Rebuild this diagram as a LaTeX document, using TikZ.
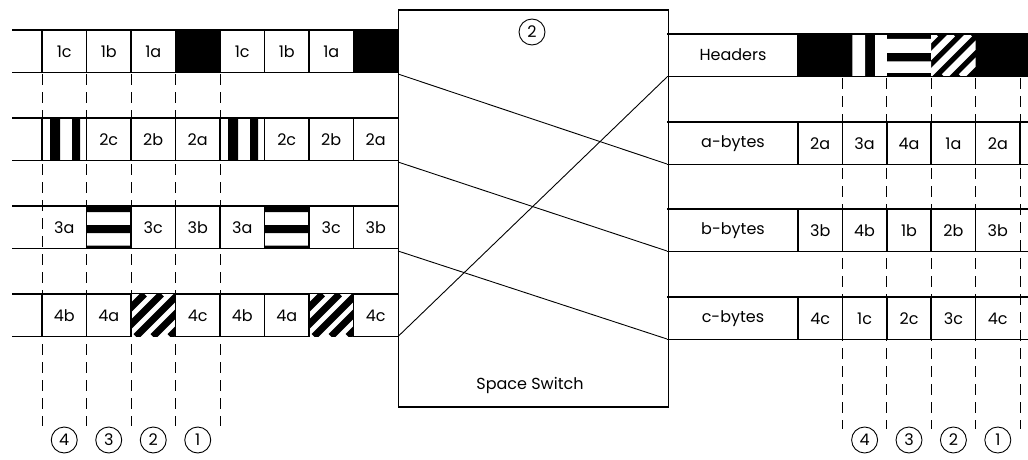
\documentclass[tikz,border=0pt]{standalone}
\usepackage{fontspec}
\setmainfont{Poppins}
\newcommand\patK[2]{\fill (#1,#2) rectangle ++(44.5,42.5);}
\newcommand\patV[2]{\begin{scope}[shift={(#1,#2)}]\fill (8,0) rectangle (18,42.5) (30,0) rectangle (38,42.5);\end{scope}}
\newcommand\patH[2]{\begin{scope}[shift={(#1,#2)}]\fill (0,0) rectangle (44.5,6) (0,19) rectangle (44.5,27) (0,39.5) rectangle (44.5,42.5);\end{scope}}
\newcommand\patD[2]{\begin{scope}[shift={(#1,#2)}]\fill[white] (0,0) rectangle (44.4,42.5);\clip (0,0) rectangle (44.4,42.5);\foreach \i in {-46,-29,...,50} \draw[line width=7pt] (\i,42.5) -- (\i+42.5,0);\end{scope}}
\begin{document}
\begin{tikzpicture}[x=1pt,y=-1pt,
  cellline/.style={line width=1.6pt},
  rowline/.style={line width=1.9pt},
  guide/.style={line width=0.9pt, dash pattern=on 11pt off 7pt},
  lbl/.style={font=\fontsize{16}{18}\selectfont, inner sep=0pt},
  num/.style={circle, draw, line width=0.9pt, minimum size=26pt, inner sep=0pt, font=\fontsize{16}{18}\selectfont},
  link/.style={line width=0.9pt}]
\useasboundingbox (0,0) rectangle (1028,460);

% ---------- left side ----------
\foreach \t in {30,118,206,294}{
  \draw[rowline] (12,\t) -- (398,\t) (12,\t+42.5) -- (398,\t+42.5);
}
% patterns
\patK{175.5}{30} \patK{353.5}{30}
\patV{42}{118} \patV{220}{118}
\patH{86.5}{206} \patH{264.5}{206}
\patD{131}{294} \patD{309}{294}
% cell borders
\foreach \t in {30,118,294}{
  \foreach \x in {42,86.5,131,175.5,220,264.5,309,353.5}
    \draw[cellline] (\x,\t) -- (\x,\t+42.5);
}
\foreach \x in {86.5,131,175.5,220,264.5,309,353.5}
  \draw[cellline] (\x,206) -- (\x,248.5);
% guides
\foreach \x in {42,86.5,131,175.5,220}
  \draw[guide] (\x,74) -- (\x,426);
% texts
\foreach \k/\s in {0/1c,1/1b,2/1a,4/1c,5/1b,6/1a}
  \node[lbl] (ta\k) at (64.25+44.5*\k,51.5) {\s};
\foreach \k/\s in {1/2c,2/2b,3/2a,5/2c,6/2b,7/2a}
  \node[lbl] (tb\k) at (64.25+44.5*\k,139.5) {\s};
\foreach \k/\s in {0/3a,2/3c,3/3b,4/3a,6/3c,7/3b}
  \node[lbl] (tc\k) at (64.25+44.5*\k,227.5) {\s};
\foreach \k/\s in {0/4b,1/4a,3/4c,4/4b,5/4a,7/4c}
  \node[lbl] (td\k) at (64.25+44.5*\k,315.5) {\s};
\foreach \k/\s in {0/4,1/3,2/2,3/1}
  \node[num] (lc\s) at (64.25+44.5*\k,440) {\s};

% ---------- switch ----------
\node[draw, line width=1.6pt, minimum width=270pt, minimum height=397pt, anchor=north west, inner sep=0pt] (sw) at (397.5,9) {};
\node[num] (swn) at (532,32) {2};
\node[font=\fontsize{16}{18}\selectfont, inner sep=0pt] (swl) at (530,385) {Space Switch};
\coordinate (L1) at (398,74);
\coordinate (L2) at (398,162);
\coordinate (L3) at (398,251);
\coordinate (L4) at (398,336.5);
\coordinate (R1) at (667,77);
\coordinate (R2) at (667,164);
\coordinate (R3) at (667,251);
\coordinate (R4) at (667,339);
\draw[link] (L1) -- (R2);
\draw[link] (L2) -- (R3);
\draw[link] (L3) -- (R4);
\draw[link] (L4) -- (R1);

% ---------- right side ----------
% header patterns
\fill (798,34) rectangle (1028,76.5);
\fill[white] (852.4,34) rectangle (865,76.5) (875,34) rectangle (886.8,76.5);
\fill[white] (886.8,39) rectangle (931.2,53) (886.8,61.5) rectangle (931.2,73);
\begin{scope}[shift={(931.2,34)}]
  \clip (0,0) rectangle (44.4,42.5);
  \foreach \i in {-38,-21,...,50} \draw[white, line width=6.5pt] (\i,42.5) -- (\i+42.5,0);
\end{scope}
\foreach \t in {34,122,209,297}{
  \draw[rowline] (667,\t) -- (1028,\t) (667,\t+42.5) -- (1028,\t+42.5);
  \draw[cellline] (798,\t) -- (798,\t+42.5);
}
\foreach \t in {122,209,297}{
  \foreach \x in {842.4,886.8,931.2,975.6}
    \draw[cellline] (\x,\t) -- (\x,\t+42.5);
}
\draw[cellline] (1020,122) -- (1020,164.5);
\foreach \x in {842.4,886.8,931.2,975.6,1020}
  \draw[guide] (\x,78) -- (\x,429);
\node[lbl] (hh) at (733,55) {Headers};
\node[lbl] (ha) at (733,143.5) {a-bytes};
\node[lbl] (hb) at (733,230.5) {b-bytes};
\node[lbl] (hc) at (733,318.5) {c-bytes};
\foreach \k/\s in {0/2a,1/3a,2/4a,3/1a,4/2a}
  \node[lbl] (ra\k) at (820.2+44.4*\k,143.5) {\s};
\foreach \k/\s in {0/3b,1/4b,2/1b,3/2b,4/3b}
  \node[lbl] (rb\k) at (820.2+44.4*\k,230.5) {\s};
\foreach \k/\s in {0/4c,1/1c,2/2c,3/3c,4/4c}
  \node[lbl] (rc\k) at (820.2+44.4*\k,318.5) {\s};
\foreach \k/\s in {0/4,1/3,2/2,3/1}
  \node[num] (rn\s) at (864.6+44.4*\k,440) {\s};
\end{tikzpicture}
\end{document}
